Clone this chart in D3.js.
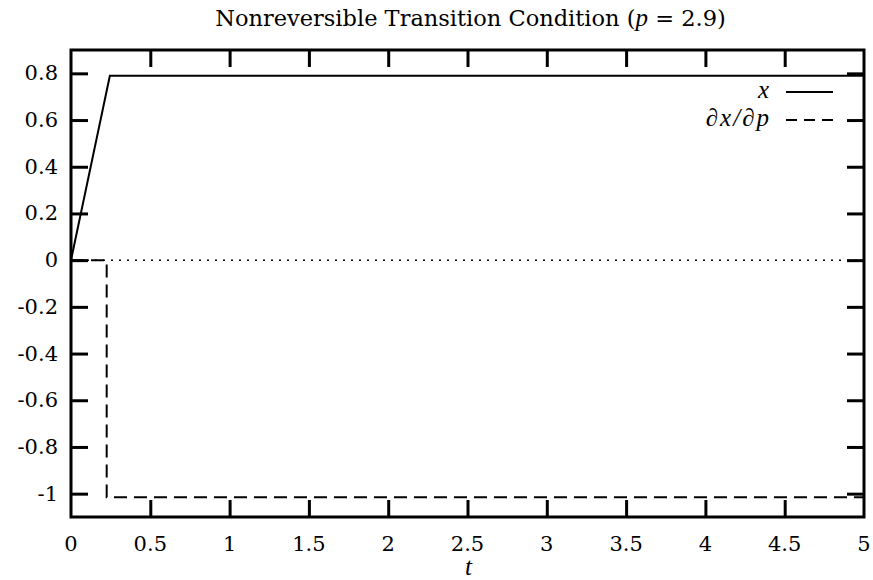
<!DOCTYPE html>
<html>
<head>
<meta charset="utf-8">
<script src="https://cdn.jsdelivr.net/npm/d3@7"></script>
<style>
  body { margin: 0; background: #fff; }
  text { font-family: "DejaVu Serif", serif; fill: #000; }
  .math { font-family: "Liberation Serif", serif; font-style: italic; }
</style>
</head>
<body>
<svg id="chart" width="873" height="580"></svg>
<script>
// values
var tTicks = [0, 0.5, 1, 1.5, 2, 2.5, 3, 3.5, 4, 4.5, 5];
var yTicks = [-1, -0.8, -0.6, -0.4, -0.2, 0, 0.2, 0.4, 0.6, 0.8];
var xT = [0, 0.245, 5];
var xVals = [0, 0.79, 0.79];
var dT = [0, 0.225, 0.225, 5];
var dVals = [0, 0, -1.015, -1.015];

(function () {
  var mLeft = 71, mRight = 864, mTop = 50, mBottom = 517;
  var tickLen = 17;

  var svg = d3.select("#chart");

  var xs = d3.scaleLinear().domain([0, 5]).range([mLeft, mRight]);
  var ys = d3.scaleLinear().domain([-1.1, 0.9]).range([mBottom, mTop]);

  // title
  var title = svg.append("text")
      .attr("x", (mLeft + mRight) / 2 + 3)
      .attr("y", 26)
      .attr("text-anchor", "middle")
      .attr("font-size", 22.5);
  title.append("tspan").text("Nonreversible Transition Condition (");
  title.append("tspan").attr("class", "math").attr("font-size", 25).text("p");
  title.append("tspan").text(" = 2.9)");

  // zero axis, dotted
  svg.append("line")
      .attr("x1", xs(0)).attr("x2", xs(5))
      .attr("y1", ys(0)).attr("y2", ys(0))
      .attr("stroke", "#000")
      .attr("stroke-width", 1.5)
      .attr("stroke-dasharray", "2,6");

  // series
  var lineX = d3.line().x(function (d, i) { return xs(xT[i]); }).y(function (d) { return ys(d); });
  var lineD = d3.line().x(function (d, i) { return xs(dT[i]); }).y(function (d) { return ys(d); });

  svg.append("path")
      .attr("d", lineX(xVals))
      .attr("fill", "none")
      .attr("stroke", "#000")
      .attr("stroke-width", 2);

  svg.append("path")
      .attr("d", lineD(dVals))
      .attr("fill", "none")
      .attr("stroke", "#000")
      .attr("stroke-width", 2)
      .attr("stroke-dasharray", "13,7");

  // axes, ticks inward on all four sides
  var inner = tTicks.slice(1, -1);
  var axB = d3.axisTop(xs).tickValues(inner).tickSize(tickLen).tickFormat("");
  var axT = d3.axisBottom(xs).tickValues(inner).tickSize(tickLen).tickFormat("");
  var axL = d3.axisRight(ys).tickValues(yTicks).tickSize(tickLen).tickFormat("");
  var axR = d3.axisLeft(ys).tickValues(yTicks).tickSize(tickLen).tickFormat("");

  svg.append("g").attr("transform", "translate(0," + mBottom + ")").call(axB);
  svg.append("g").attr("transform", "translate(0," + mTop + ")").call(axT);
  svg.append("g").attr("transform", "translate(" + mLeft + ",0)").call(axL);
  svg.append("g").attr("transform", "translate(" + mRight + ",0)").call(axR);

  svg.selectAll(".domain").remove();
  svg.selectAll(".tick line").attr("stroke", "#000").attr("stroke-width", 3);

  // frame
  svg.append("rect")
      .attr("x", mLeft).attr("y", mTop)
      .attr("width", mRight - mLeft).attr("height", mBottom - mTop)
      .attr("fill", "none")
      .attr("stroke", "#000")
      .attr("stroke-width", 3);

  // tick labels
  svg.append("g").selectAll("text")
      .data(yTicks)
      .join("text")
      .attr("x", mLeft - 13)
      .attr("y", function (d) { return ys(d) + 7; })
      .attr("text-anchor", "end")
      .attr("font-size", 21)
      .text(function (d) { return String(d); });

  svg.append("g").selectAll("text")
      .data(tTicks)
      .join("text")
      .attr("x", function (d) { return xs(d); })
      .attr("y", 551)
      .attr("text-anchor", "middle")
      .attr("font-size", 21)
      .text(function (d) { return d; });

  // axis title
  svg.append("text")
      .attr("class", "math")
      .attr("x", (mLeft + mRight) / 2 + 1)
      .attr("y", 575)
      .attr("text-anchor", "middle")
      .attr("font-size", 25)
      .text("t");

  // legend
  var legend = [
    { label: "x", dash: null, y: 92 },
    { label: "∂x/∂p", dash: "11,7", y: 120 }
  ];
  var lg = svg.append("g");
  legend.forEach(function (d) {
    lg.append("text")
        .attr("class", "math")
        .attr("x", 771)
        .attr("y", d.y + 6)
        .attr("text-anchor", "end")
        .attr("font-size", 25)
        .attr("letter-spacing", 2)
        .text(d.label);
    lg.append("line")
        .attr("x1", 786).attr("x2", 833)
        .attr("y1", d.y).attr("y2", d.y)
        .attr("stroke", "#000")
        .attr("stroke-width", 2)
        .attr("stroke-dasharray", d.dash);
  });
})();
</script>
</body>
</html>
